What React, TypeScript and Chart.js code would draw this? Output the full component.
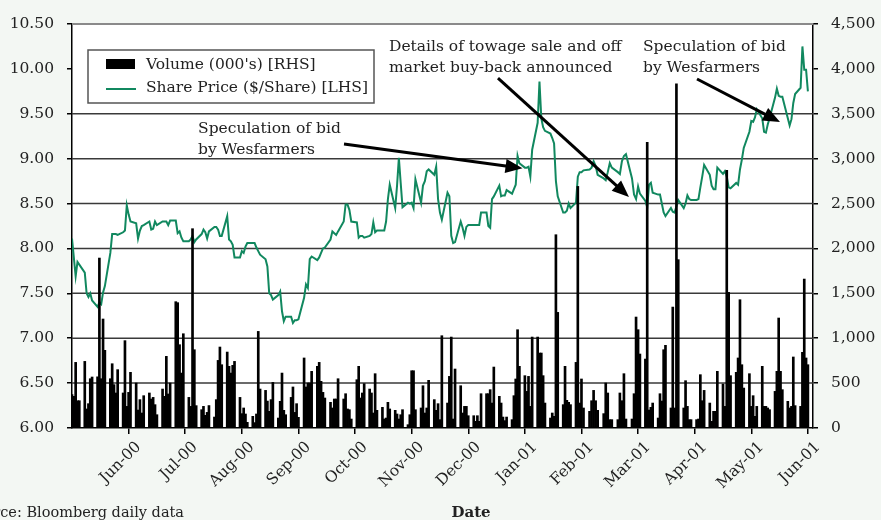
import React, { useEffect, useRef } from 'react';
import { Chart, registerables } from 'chart.js';

Chart.register(...registerables);

// ---- Data ----
const monthLabels = ['Jun-00', 'Jul-00', 'Aug-00', 'Sep-00', 'Oct-00', 'Nov-00', 'Dec-00', 'Jan-01', 'Feb-01', 'Mar-01', 'Apr-01', 'May-01', 'Jun-01'];
const priceTicks = [6.0, 6.5, 7.0, 7.5, 8.0, 8.5, 9.0, 9.5, 10.0, 10.5];
const volumeTicks = [0, 500, 1000, 1500, 2000, 2500, 3000, 3500, 4000, 4500];
// price levels that carry a horizontal grid line across the plot
const priceGridLines = [6.5, 7.0, 7.5, 8.0, 8.5, 9.0, 9.5];
const priceFrameTop = 10.5;

// Share price ($/share), one value per trading day, 1 May 2000 .. 1 Jun 2001
const price = [
  // May-00
  8.11, 7.90, 7.69, 7.85, 7.82, 7.73, 7.50, 7.46, 7.50, 7.42, 7.35, 7.40, 7.38, 7.51, 7.58, 7.95, 8.16, 8.16, 8.16, 8.15, 8.18, 8.20, 8.48,
  // Jun-00
  8.38, 8.30, 8.28, 8.11, 8.20, 8.25, 8.26, 8.30, 8.21, 8.22, 8.30, 8.26, 8.30, 8.30, 8.30, 8.26, 8.31, 8.31, 8.17, 8.19, 8.12, 8.08,
  // Jul-00
  8.08, 8.10, 8.14, 8.07, 8.10, 8.16, 8.21, 8.18, 8.11, 8.19, 8.24, 8.24, 8.21, 8.14, 8.14, 8.36, 8.10, 8.08, 8.04, 7.90, 7.90,
  // Aug-00
  7.97, 7.95, 8.02, 8.06, 8.06, 8.06, 8.01, 7.97, 7.93, 7.88, 7.80, 7.50, 7.48, 7.43, 7.48, 7.52, 7.30, 7.19, 7.24, 7.24, 7.17, 7.20, 7.20,
  // Sep-00
  7.21, 7.45, 7.60, 7.56, 7.88, 7.91, 7.87, 7.90, 7.95, 8.00, 8.01, 8.10, 8.19, 8.17, 8.15, 8.19, 8.30, 8.49, 8.49, 8.43, 8.30,
  // Oct-00
  8.29, 8.12, 8.14, 8.14, 8.12, 8.14, 8.16, 8.29, 8.18, 8.20, 8.20, 8.20, 8.30, 8.55, 8.71, 8.45, 8.70, 9.01, 8.73, 8.46, 8.51, 8.50,
  // Nov-00
  8.51, 8.45, 8.77, 8.51, 8.70, 8.75, 8.86, 8.88, 8.82, 8.91, 8.55, 8.40, 8.32, 8.62, 8.58, 8.14, 8.06, 8.07, 8.30, 8.23, 8.14, 8.24,
  // Dec-00
  8.26, 8.26, 8.26, 8.26, 8.26, 8.40, 8.40, 8.25, 8.23, 8.55, 8.58, 8.70, 8.58, 8.59, 8.59, 8.65, 8.61, 8.66, 8.71, 9.03, 8.95,
  // Jan-01
  8.90, 8.90, 8.91, 8.80, 9.10, 9.40, 9.86, 9.45, 9.35, 9.31, 9.28, 9.23, 9.17, 8.75, 8.58, 8.40, 8.40, 8.42, 8.50, 8.45, 8.51, 8.80, 8.85,
  // Feb-01
  8.85, 8.87, 8.88, 8.90, 8.97, 8.92, 8.82, 8.78, 8.76, 8.85, 8.95, 8.90, 8.85, 8.83, 8.97, 9.03, 9.05, 8.78, 8.60, 8.55,
  // Mar-01
  8.69, 8.61, 8.53, 8.46, 8.71, 8.73, 8.62, 8.60, 8.60, 8.50, 8.40, 8.36, 8.45, 8.41, 8.40, 8.47, 8.54, 8.45, 8.50, 8.59, 8.55, 8.54,
  // Apr-01
  8.54, 8.55, 8.68, 8.80, 8.93, 8.82, 8.70, 8.66, 8.66, 8.90, 8.83, 8.86, 8.80, 8.68, 8.67, 8.73, 8.71, 8.88, 8.99, 9.12, 9.30,
  // May-01
  9.42, 9.41, 9.46, 9.55, 9.45, 9.30, 9.29, 9.38, 9.45, 9.68, 9.78, 9.70, 9.69, 9.69, 9.45, 9.37, 9.44, 9.62, 9.72, 9.79, 10.25, 9.99, 9.99,
  // Jun-01
  9.75,
];

// Volume (000's shares), one value per trading day
const volume = [
  // May-00
  371, 353, 731, 304, 304, 742, 212, 271, 549, 568, 570, 1893, 549, 1214, 865, 549, 716, 483, 390, 650, 390, 973, 241,
  // Jun-00
  397, 620, 501, 200, 316, 167, 360, 390, 323, 341, 260, 148, 434, 353, 798, 379, 501, 1407, 1396, 928, 612, 1050,
  // Jul-00
  341, 241, 2220, 872, 249, 204, 241, 141, 174, 250, 122, 316, 753, 902, 705, 846, 687, 612, 698, 742, 341,
  // Aug-00
  160, 223, 156, 63, 130, 60, 156, 1076, 434, 419, 300, 186, 316, 508, 111, 297, 612, 197, 148, 341, 457, 174, 271,
  // Sep-00
  119, 780, 457, 501, 501, 631, 687, 731, 520, 397, 334, 286, 223, 323, 323, 549, 323, 382, 212, 204, 100,
  // Oct-00
  538, 687, 334, 390, 494, 434, 390, 167, 605, 197, 230, 100, 111, 286, 212, 197, 156, 100, 148, 204, 37, 148,
  // Nov-00
  638, 638, 204, 223, 471, 167, 223, 531, 316, 197, 271, 93, 1028, 278, 575, 1013, 100, 657, 471, 167, 241, 241,
  // Dec-00
  137, 137, 74, 137, 74, 382, 382, 382, 427, 278, 679, 353, 278, 122, 82, 122, 93, 360, 546, 1095, 687,
  // Jan-01
  583, 408, 575, 241, 1013, 1013, 835, 835, 583, 278, 111, 167, 130, 2153, 1288, 260, 687, 308, 286, 260, 731, 2691, 278,
  // Feb-01
  546, 223, 186, 304, 419, 304, 197, 160, 501, 390, 93, 93, 93, 390, 304, 605, 100, 100, 382, 1236,
  // Mar-01
  1095, 824, 768, 3181, 200, 230, 278, 111, 382, 300, 872, 921, 223, 1347, 223, 3834, 1875, 223, 527, 241, 93, 93,
  // Apr-01
  93, 100, 594, 304, 419, 278, 74, 186, 186, 631, 490, 241, 2869, 1511, 583, 620, 780, 1429, 705, 445, 605,
  // May-01
  241, 360, 130, 241, 687, 241, 241, 223, 204, 408, 631, 1225, 631, 427, 297, 223, 241, 791, 249, 241, 843, 1659, 780,
  // Jun-01
  705,
];

// Annotations: text anchor, arrow start and arrow tip in (months since 1 May 2000, $ price)
const annotationTexts = [
  ['Speculation of bid', 'by Wesfarmers'],
  ['Details of towage sale and off', 'market buy-back announced'],
  ['Speculation of bid', 'by Wesfarmers'],
];
const annotationTextAt = [[2.226, 9.286], [5.6, 10.199], [10.087, 10.199]];
const annotationArrowFrom = [[4.805, 9.163], [7.525, 9.898], [11.041, 9.887]];
const annotationArrowTo = [[7.958, 8.893], [9.839, 8.573], [12.507, 9.408]];

// ---- Styling ----
const GREEN = '#11885f';
const BG = '#f3f7f3';
const TEXT = '#222';
const FONT = '"DejaVu Serif", serif';
const FS = 15.5;
const X_MAX = 13.09;

// trading-day positions on the x axis, measured in months since 1 May 2000
function tradingDayPositions(): number[] {
  const out: number[] = [];
  const d = new Date(Date.UTC(2000, 4, 1));
  const end = Date.UTC(2001, 5, 1);
  while (d.getTime() <= end) {
    const wd = d.getUTCDay();
    if (wd !== 0 && wd !== 6) {
      const y = d.getUTCFullYear();
      const m = d.getUTCMonth();
      const day = d.getUTCDate();
      const dim = new Date(Date.UTC(y, m + 1, 0)).getUTCDate();
      out.push((y - 2000) * 12 + m - 4 + (day - 1) / dim);
    }
    d.setUTCDate(d.getUTCDate() + 1);
  }
  return out;
}

function drawArrow(ctx: CanvasRenderingContext2D, x1: number, y1: number, x2: number, y2: number) {
  const ang = Math.atan2(y2 - y1, x2 - x1);
  const hl = 17;
  const hw = 7;
  const c = Math.cos(ang);
  const s = Math.sin(ang);
  const bx = x2 - hl * c;
  const by = y2 - hl * s;
  ctx.save();
  ctx.strokeStyle = '#000';
  ctx.fillStyle = '#000';
  ctx.lineWidth = 3;
  ctx.beginPath();
  ctx.moveTo(x1, y1);
  ctx.lineTo(bx + 2 * c, by + 2 * s);
  ctx.stroke();
  ctx.beginPath();
  ctx.moveTo(x2, y2);
  ctx.lineTo(bx - hw * s, by + hw * c);
  ctx.lineTo(bx + hw * s, by - hw * c);
  ctx.closePath();
  ctx.fill();
  ctx.restore();
}

const decorPlugin = {
  id: 'decor',
  beforeDraw(chart: any) {
    const { ctx, chartArea } = chart;
    ctx.save();
    ctx.fillStyle = '#ffffff';
    ctx.fillRect(chartArea.left, chartArea.top, chartArea.right - chartArea.left, chartArea.bottom - chartArea.top);
    ctx.restore();
  },
  afterDraw(chart: any) {
    const { ctx, chartArea } = chart;
    const xs = chart.scales.x;
    const ys = chart.scales.y;
    ctx.save();
    // legend
    const lx = chartArea.left + 16;
    const ly = chartArea.top + 26;
    ctx.fillStyle = '#fff';
    ctx.fillRect(lx, ly, 286, 53);
    ctx.strokeStyle = '#555';
    ctx.lineWidth = 1.5;
    ctx.strokeRect(lx, ly, 286, 53);
    ctx.fillStyle = '#000';
    ctx.fillRect(lx + 18, ly + 9, 29, 10);
    ctx.strokeStyle = GREEN;
    ctx.lineWidth = 2;
    ctx.beginPath();
    ctx.moveTo(lx + 18, ly + 39);
    ctx.lineTo(lx + 48, ly + 39);
    ctx.stroke();
    ctx.fillStyle = TEXT;
    ctx.font = `${FS}px ${FONT}`;
    ctx.textAlign = 'left';
    ctx.textBaseline = 'middle';
    ctx.fillText(chart.data.datasets[0].label, lx + 58, ly + 15);
    ctx.fillText(chart.data.datasets[1].label, lx + 58, ly + 38);

    // annotations
    ctx.textBaseline = 'alphabetic';
    annotationTexts.forEach((lines, i) => {
      const tx = xs.getPixelForValue(annotationTextAt[i][0]);
      const ty = ys.getPixelForValue(annotationTextAt[i][1]);
      lines.forEach((t, j) => ctx.fillText(t, tx, ty + j * 21));
      drawArrow(
        ctx,
        xs.getPixelForValue(annotationArrowFrom[i][0]),
        ys.getPixelForValue(annotationArrowFrom[i][1]),
        xs.getPixelForValue(annotationArrowTo[i][0]),
        ys.getPixelForValue(annotationArrowTo[i][1])
      );
    });

    // axis title and source
    ctx.font = `bold 15px ${FONT}`;
    ctx.textAlign = 'center';
    ctx.fillText('Date', 471, 517);
    ctx.font = `14.5px ${FONT}`;
    ctx.textAlign = 'right';
    ctx.fillText('Source: Bloomberg daily data', 184, 517);
    ctx.restore();
  },
};

export default function App() {
  const ref = useRef<HTMLCanvasElement>(null);
  useEffect(() => {
    const xsPos = tradingDayPositions();
    const n = Math.min(xsPos.length, price.length, volume.length);
    const priceData: { x: number; y: number }[] = [];
    const volData: { x: number; y: number }[] = [];
    for (let i = 0; i < n; i++) {
      priceData.push({ x: xsPos[i], y: price[i] });
      volData.push({ x: xsPos[i], y: volume[i] });
    }
    const monthTickValues = monthLabels.map((_, i) => i + 1);

    // horizontal reference lines drawn by the line controller (beneath the data)
    const gridDatasets = priceGridLines.map((v) => ({
      type: 'line',
      label: '',
      data: [{ x: 0, y: v }, { x: X_MAX, y: v }],
      yAxisID: 'y',
      borderColor: '#3a3a3a',
      borderWidth: 1.5,
      pointRadius: 0,
      fill: false,
      clip: false,
      order: 3,
    }));
    const frameDataset = {
      type: 'line',
      label: '',
      data: [{ x: 0, y: priceFrameTop }, { x: X_MAX, y: priceFrameTop }],
      yAxisID: 'y',
      borderColor: '#8a8a8a',
      borderWidth: 2,
      pointRadius: 0,
      fill: false,
      clip: false,
      order: 3,
    };

    const chart = new Chart(ref.current as HTMLCanvasElement, {
      type: 'bar',
      data: {
        datasets: [
          {
            type: 'bar',
            label: "Volume (000's) [RHS]",
            data: volData,
            yAxisID: 'y2',
            backgroundColor: '#000',
            barThickness: 2,
            order: 0,
          } as any,
          {
            type: 'line',
            label: 'Share Price ($/Share) [LHS]',
            data: priceData,
            yAxisID: 'y',
            borderColor: GREEN,
            backgroundColor: GREEN,
            fill: false,
            borderWidth: 2,
            pointRadius: 0,
            tension: 0,
            order: 1,
          } as any,
          ...(gridDatasets as any[]),
          frameDataset as any,
        ],
      },
      options: {
        animation: false,
        responsive: false,
        maintainAspectRatio: false,
        layout: { padding: { top: 24, left: 0, right: 0, bottom: 0 } },
        plugins: { legend: { display: false }, tooltip: { enabled: false } },
        scales: {
          x: {
            type: 'linear',
            min: 0,
            max: X_MAX,
            offset: false,
            afterBuildTicks: (axis: any) => {
              axis.ticks = monthTickValues.map((v) => ({ value: v }));
            },
            afterFit: (scale: any) => {
              scale.height = 92;
            },
            grid: { display: true, drawOnChartArea: false, drawTicks: true, tickLength: 6, tickColor: '#000', lineWidth: 1.5, offset: false },
            border: { display: true, color: '#000', width: 1.5 },
            ticks: {
              autoSkip: false,
              minRotation: 45,
              maxRotation: 45,
              padding: 4,
              labelOffset: 10,
              color: TEXT,
              font: { family: FONT, size: FS },
              callback: (_v: any, i: number) => monthLabels[i],
            },
          },
          y: {
            type: 'linear',
            position: 'left',
            min: 6,
            max: 10.5,
            afterBuildTicks: (axis: any) => {
              axis.ticks = priceTicks.map((v) => ({ value: v }));
            },
            afterFit: (scale: any) => {
              scale.width = 72;
            },
            grid: { display: true, drawOnChartArea: false, drawTicks: true, tickLength: 5, tickColor: '#000', color: '#000', lineWidth: 1.5 },
            border: { display: true, color: '#000', width: 1.5 },
            ticks: {
              padding: 13,
              color: TEXT,
              font: { family: FONT, size: FS },
              callback: (v: any) => Number(v).toFixed(2),
            },
          },
          y2: {
            type: 'linear',
            position: 'right',
            min: 0,
            max: 4500,
            afterBuildTicks: (axis: any) => {
              axis.ticks = volumeTicks.map((v) => ({ value: v }));
            },
            afterFit: (scale: any) => {
              scale.width = 68;
            },
            grid: { display: true, drawOnChartArea: false, drawTicks: true, tickLength: 5, tickColor: '#000', color: '#000', lineWidth: 1.5 },
            border: { display: true, color: '#000', width: 1.5 },
            ticks: {
              padding: 13,
              color: TEXT,
              font: { family: FONT, size: FS },
              callback: (v: any) => Number(v).toLocaleString('en-US'),
            },
          },
        },
      } as any,
      plugins: [decorPlugin],
    });
    return () => chart.destroy();
  }, []);

  return (
    <div style={{ position: 'fixed', left: 0, top: 0, width: 881, height: 520, background: BG, overflow: 'hidden' }}>
      <canvas ref={ref} width={881} height={520} style={{ display: 'block' }} />
    </div>
  );
}
